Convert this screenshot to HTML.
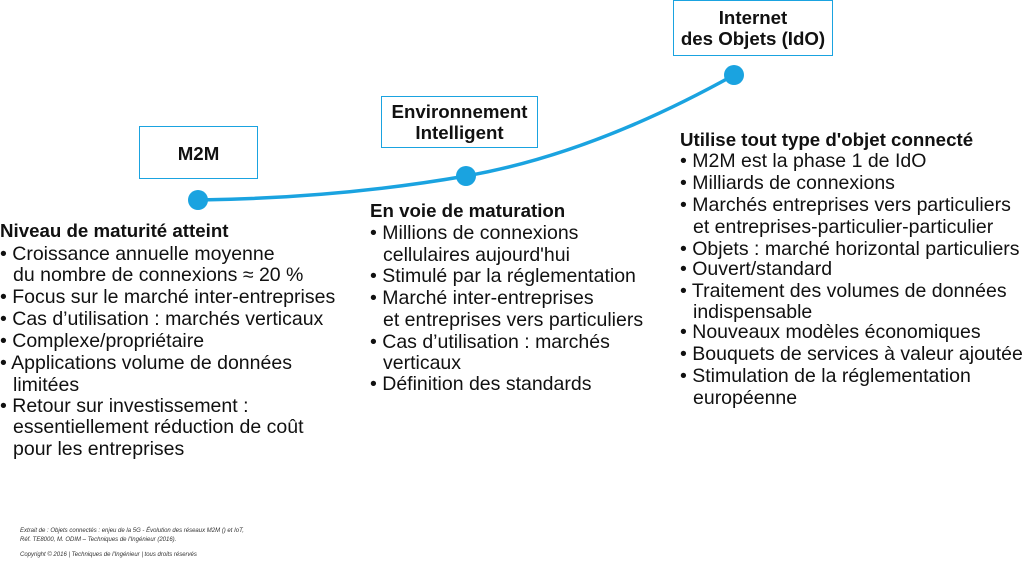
<!DOCTYPE html>
<html><head><meta charset="utf-8"><style>
body{margin:0;width:1024px;height:579px;background:#fff;position:relative;overflow:hidden;font-family:"Liberation Sans",sans-serif;color:#111}
.t{position:absolute;font-size:19.5px;white-space:nowrap;line-height:20px}
.b{font-weight:bold;font-size:18.7px}
.box{position:absolute;border:1.5px solid #1aa3e0;background:#fff;font-weight:bold;font-size:18.7px;text-align:center;box-sizing:border-box;line-height:21px}
.f{position:absolute;font-size:6px;font-style:italic;color:#333;white-space:nowrap}
</style></head><body>
<svg width="1024" height="579" style="position:absolute;left:0;top:0">
<path d="M198 200 Q340 198 466 176 T734 75" fill="none" stroke="#1aa3e0" stroke-width="3.5"/>
<circle cx="198" cy="200" r="10" fill="#1aa3e0"/>
<circle cx="466" cy="176" r="10" fill="#1aa3e0"/>
<circle cx="734" cy="75" r="10" fill="#1aa3e0"/>
</svg>
<div class="box" style="left:139px;top:126px;width:119px;height:53px;padding-top:16px">M2M</div>
<div class="box" style="left:381px;top:96px;width:157px;height:52px;padding-top:4px">Environnement<br>Intelligent</div>
<div class="box" style="left:673px;top:0px;width:160px;height:56px;padding-top:6px">Internet<br>des Objets (IdO)</div>

<div class="t b" style="left:0;top:221px">Niveau de maturité atteint</div>
<div class="t" style="left:0;top:244px">• Croissance annuelle moyenne</div>
<div class="t" style="left:13px;top:265px">du nombre de connexions ≈ 20 %</div>
<div class="t" style="left:0;top:287px">• Focus sur le marché inter-entreprises</div>
<div class="t" style="left:0;top:309px">• Cas d’utilisation : marchés verticaux</div>
<div class="t" style="left:0;top:331px">• Complexe/propriétaire</div>
<div class="t" style="left:0;top:353px">• Applications volume de données</div>
<div class="t" style="left:13px;top:375px">limitées</div>
<div class="t" style="left:0;top:396px">• Retour sur investissement :</div>
<div class="t" style="left:13px;top:417px">essentiellement réduction de coût</div>
<div class="t" style="left:13px;top:439px">pour les entreprises</div>

<div class="t b" style="left:370px;top:201px">En voie de maturation</div>
<div class="t" style="left:370px;top:223px">• Millions de connexions</div>
<div class="t" style="left:383px;top:245px">cellulaires aujourd'hui</div>
<div class="t" style="left:370px;top:266px">• Stimulé par la réglementation</div>
<div class="t" style="left:370px;top:288px">• Marché inter-entreprises</div>
<div class="t" style="left:383px;top:310px">et entreprises vers particuliers</div>
<div class="t" style="left:370px;top:332px">• Cas d’utilisation : marchés</div>
<div class="t" style="left:383px;top:353px">verticaux</div>
<div class="t" style="left:370px;top:374px">• Définition des standards</div>

<div class="t b" style="left:680px;top:130px">Utilise tout type d'objet connecté</div>
<div class="t" style="left:680px;top:151px">• M2M est la phase 1 de IdO</div>
<div class="t" style="left:680px;top:173px">• Milliards de connexions</div>
<div class="t" style="left:680px;top:195px">• Marchés entreprises vers particuliers</div>
<div class="t" style="left:693px;top:217px">et entreprises-particulier-particulier</div>
<div class="t" style="left:680px;top:239px">• Objets : marché horizontal particuliers</div>
<div class="t" style="left:680px;top:259px">• Ouvert/standard</div>
<div class="t" style="left:680px;top:281px">• Traitement des volumes de données</div>
<div class="t" style="left:693px;top:302px">indispensable</div>
<div class="t" style="left:680px;top:322px">• Nouveaux modèles économiques</div>
<div class="t" style="left:680px;top:344px">• Bouquets de services à valeur ajoutée</div>
<div class="t" style="left:680px;top:366px">• Stimulation de la réglementation</div>
<div class="t" style="left:693px;top:388px">européenne</div>

<div class="f" style="left:20px;top:528px">Extrait de : Objets connectés : enjeu de la 5G - Évolution des réseaux M2M () et IoT,</div>
<div class="f" style="left:20px;top:537px">Réf. TE8000, M. ODIM – Techniques de l'Ingénieur (2016).</div>
<div class="f" style="left:20px;top:552px">Copyright © 2016 | Techniques de l'Ingénieur | tous droits réservés</div>
</body></html>
